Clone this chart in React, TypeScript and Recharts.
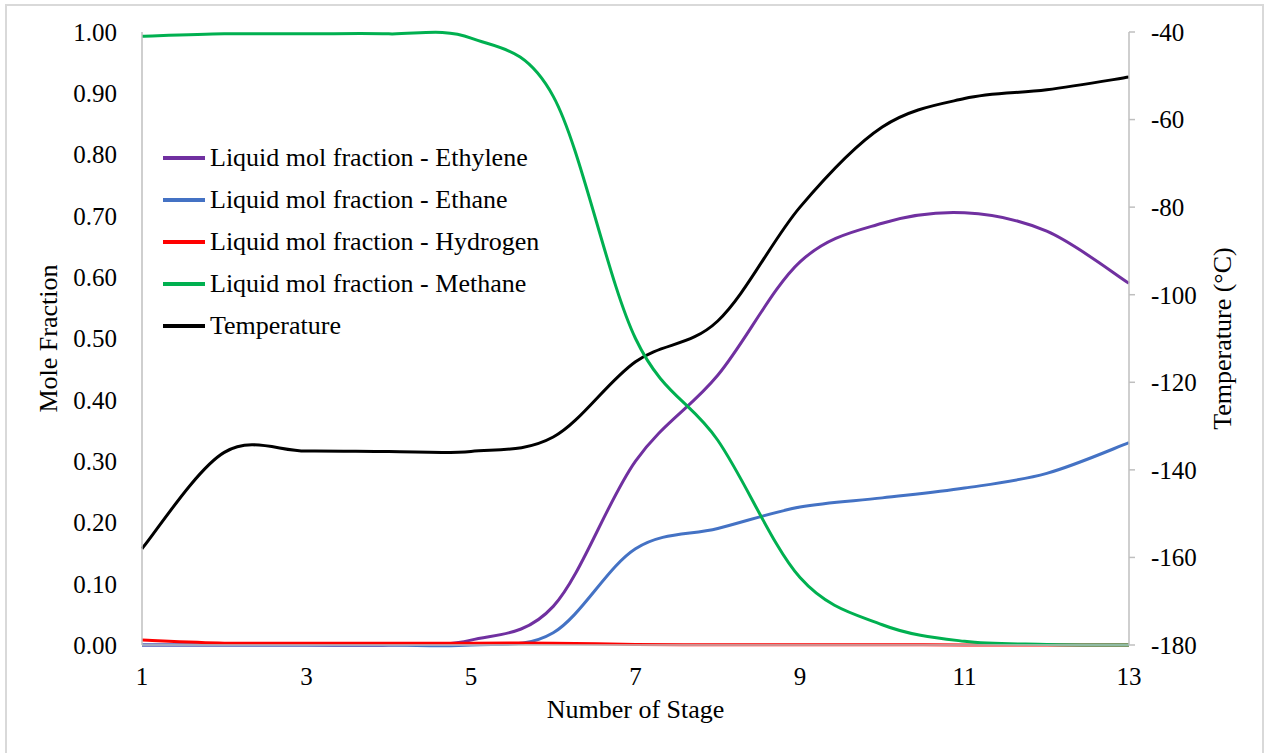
import { LineChart, Line, XAxis, YAxis, Legend } from "recharts";

const stages = [1, 2, 3, 4, 5, 6, 7, 8, 9, 10, 11, 12, 13];
const ethylene = [0, 0, 0, 0, 0.008, 0.063, 0.3, 0.44, 0.625, 0.688, 0.705, 0.675, 0.59];
const ethane = [0, 0, 0, 0, 0, 0.02, 0.157, 0.19, 0.225, 0.24, 0.256, 0.28, 0.33];
const hydrogen = [0.008, 0.003, 0.003, 0.003, 0.003, 0.003, 0.001, 0.0005, 0.0005, 0.0004, 0.0002, 0, 0];
const methane = [0.993, 0.997, 0.997, 0.997, 0.99, 0.895, 0.5, 0.334, 0.11, 0.033, 0.006, 0.001, 0];
const temperature = [-158, -136, -135.7, -135.8, -135.8, -132.5, -115.3, -106, -80, -61.7, -55.2, -53.2, -50.3];

const xTicks = [1, 3, 5, 7, 9, 11, 13];
const leftTicks = [0, 0.1, 0.2, 0.3, 0.4, 0.5, 0.6, 0.7, 0.8, 0.9, 1.0];
const rightTicks = [-180, -160, -140, -120, -100, -80, -60, -40];

const data = stages.map((s, i) => ({
  stage: s,
  ethylene: ethylene[i],
  ethane: ethane[i],
  hydrogen: hydrogen[i],
  methane: methane[i],
  temperature: temperature[i],
}));

const series = [
  { key: "ethylene", name: "Liquid mol fraction - Ethylene", color: "#7030A0" },
  { key: "ethane", name: "Liquid mol fraction - Ethane", color: "#4472C4" },
  { key: "hydrogen", name: "Liquid mol fraction - Hydrogen", color: "#FF0000" },
  { key: "methane", name: "Liquid mol fraction - Methane", color: "#00B050" },
  { key: "temperature", name: "Temperature", color: "#000000" },
];

const FONT = '"Liberation Serif", "Times New Roman", serif';
const AXIS = "#bfbfbf";

// Excel-style smoothed line (Catmull-Rom through the points)
const smoothCurve = (context: any) => {
  let pts: number[][] = [];
  return {
    areaStart() {},
    areaEnd() {},
    lineStart() {
      pts = [];
    },
    point(x: number, y: number) {
      pts.push([+x, +y]);
    },
    lineEnd() {
      if (!pts.length) return;
      context.moveTo(pts[0][0], pts[0][1]);
      const t = 1 / 6;
      for (let i = 0; i < pts.length - 1; i++) {
        const p0 = pts[i - 1] || pts[i];
        const p1 = pts[i];
        const p2 = pts[i + 1];
        const p3 = pts[i + 2] || p2;
        context.bezierCurveTo(
          p1[0] + (p2[0] - p0[0]) * t,
          p1[1] + (p2[1] - p0[1]) * t,
          p2[0] - (p3[0] - p1[0]) * t,
          p2[1] - (p3[1] - p1[1]) * t,
          p2[0],
          p2[1]
        );
      }
    },
  };
};

const renderLegend = () => (
  <div style={{ fontFamily: FONT, fontSize: 26, color: "#000" }}>
    {series.map((s) => (
      <div key={s.key} style={{ display: "flex", alignItems: "center", height: 42 }}>
        <span style={{ display: "inline-block", width: 42, height: 4, background: s.color, marginRight: 5 }} />
        <span style={{ whiteSpace: "nowrap" }}>{s.name}</span>
      </div>
    ))}
  </div>
);

const App = () => {
  return (
    <div style={{ position: "absolute", left: 0, top: 0, width: 1265, height: 753, background: "#fff", overflow: "hidden" }}>
      <div
        style={{
          position: "absolute",
          left: 5,
          top: 4,
          width: 1255,
          height: 770,
          border: "2px solid #d9d9d9",
        }}
      />
      <div style={{ position: "absolute", left: 0, top: 0 }}>
        <LineChart width={1265} height={753} data={data} margin={{ top: 32, right: 0, bottom: 0, left: 0 }}>
          <XAxis
            dataKey="stage"
            type="number"
            domain={[1, 13]}
            ticks={xTicks}
            height={108}
            tickLine={false}
            tickSize={0}
            tickMargin={22}
            axisLine={{ stroke: AXIS, strokeWidth: 1.5 }}
            tick={{ fill: "#000", fontSize: 25, fontFamily: FONT }}
            label={{ value: "Number of Stage", position: "insideBottom", offset: 35, fill: "#000", fontSize: 26, fontFamily: FONT }}
          />
          <YAxis
            yAxisId="left"
            domain={[0, 1]}
            ticks={leftTicks}
            width={142}
            tickLine={false}
            tickSize={0}
            tickMargin={25}
            tickFormatter={(v: number) => v.toFixed(2)}
            axisLine={{ stroke: AXIS, strokeWidth: 1.5 }}
            tick={{ fill: "#000", fontSize: 25, fontFamily: FONT }}
            label={{
              content: ({ viewBox }: any) => (
                <text
                  x={viewBox.x + 57}
                  y={viewBox.y + viewBox.height / 2}
                  transform={`rotate(-90, ${viewBox.x + 57}, ${viewBox.y + viewBox.height / 2})`}
                  textAnchor="middle"
                  fontSize={26}
                  fontFamily={FONT}
                  fill="#000"
                >
                  Mole Fraction
                </text>
              ),
            }}
          />
          <YAxis
            yAxisId="right"
            orientation="right"
            domain={[-180, -40]}
            ticks={rightTicks}
            width={136}
            tickSize={6}
            tickMargin={16}
            tickLine={{ stroke: AXIS, strokeWidth: 1.5 }}
            axisLine={{ stroke: AXIS, strokeWidth: 1.5 }}
            tick={{ fill: "#000", fontSize: 25, fontFamily: FONT, textAnchor: "start" }}
            label={{
              content: ({ viewBox }: any) => (
                <text
                  x={viewBox.x + 102}
                  y={viewBox.y + viewBox.height / 2}
                  transform={`rotate(-90, ${viewBox.x + 102}, ${viewBox.y + viewBox.height / 2})`}
                  textAnchor="middle"
                  fontSize={26}
                  fontFamily={FONT}
                  fill="#000"
                >
                  Temperature (°C)
                </text>
              ),
            }}
          />
          <Legend
            layout="horizontal"
            verticalAlign="middle"
            align="center"
            wrapperStyle={{ left: 163, top: 137, width: 420 }}
            content={renderLegend}
          />
          <Line yAxisId="right" dataKey="temperature" name="Temperature" stroke="#000000" strokeWidth={3} dot={false} type={smoothCurve as any} isAnimationActive={false} />
          <Line yAxisId="left" dataKey="ethylene" name="Liquid mol fraction - Ethylene" stroke="#7030A0" strokeWidth={3} dot={false} type={smoothCurve as any} isAnimationActive={false} />
          <Line yAxisId="left" dataKey="ethane" name="Liquid mol fraction - Ethane" stroke="#4472C4" strokeWidth={3} dot={false} type={smoothCurve as any} isAnimationActive={false} />
          <Line yAxisId="left" dataKey="hydrogen" name="Liquid mol fraction - Hydrogen" stroke="#FF0000" strokeWidth={3} dot={false} type={smoothCurve as any} isAnimationActive={false} />
          <Line yAxisId="left" dataKey="methane" name="Liquid mol fraction - Methane" stroke="#00B050" strokeWidth={3} dot={false} type={smoothCurve as any} isAnimationActive={false} />
        </LineChart>
      </div>
    </div>
  );
};

export default App;
